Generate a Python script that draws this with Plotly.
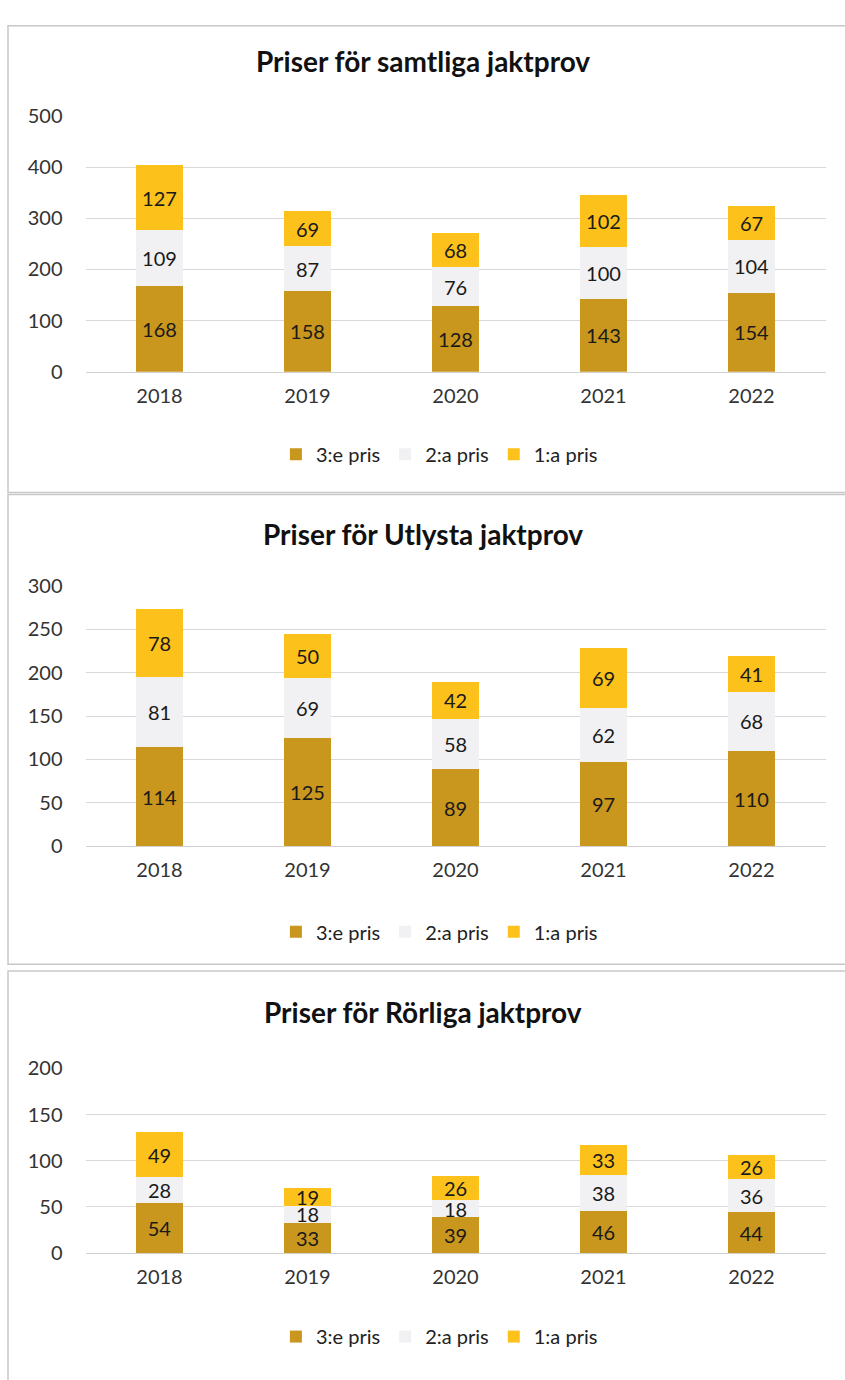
import plotly.graph_objects as go

years = ["2018", "2019", "2020", "2021", "2022"]
series_names = ["3:e pris", "2:a pris", "1:a pris"]
colors = ["#C9961E", "#F1F1F4", "#FCC11A"]

titles = ["Priser för samtliga jaktprov", "Priser för Utlysta jaktprov", "Priser för Rörliga jaktprov"]

samtliga_3 = [168, 158, 128, 143, 154]
samtliga_2 = [109, 87, 76, 100, 104]
samtliga_1 = [127, 69, 68, 102, 67]

utlysta_3 = [114, 125, 89, 97, 110]
utlysta_2 = [81, 69, 58, 62, 68]
utlysta_1 = [78, 50, 42, 69, 41]

rorliga_3 = [54, 33, 39, 46, 44]
rorliga_2 = [28, 18, 18, 38, 36]
rorliga_1 = [49, 19, 26, 33, 26]

panels = [
    [samtliga_3, samtliga_2, samtliga_1],
    [utlysta_3, utlysta_2, utlysta_1],
    [rorliga_3, rorliga_2, rorliga_1],
]
y_max = [500, 300, 200]
y_dtick = [100, 50, 50]

H = 1380.0
W = 845.0
def py(px):
    return 1 - px / H
def pxx(px):
    return px / W

# pixel geometry for each panel: (y of top tick, y of zero, title y, legend y, box top, box bottom)
geo = [
    (105, 365, 49, 449, 13, 488),
    (583, 848, 530, 935, 490, 968),
    (1074, 1262, 1017, 1347, 975, 1392),
]

FONT = "Lato, 'Open Sans', sans-serif"
fig = go.Figure()
layout = dict(
    width=845, height=1380,
    margin=dict(l=0, r=0, t=0, b=0),
    paper_bgcolor="white", plot_bgcolor="white",
    barmode="stack", bargap=0.68,
    font=dict(family=FONT, size=20, color="#222222"),
    annotations=[], shapes=[],
)

for i, (vals, g) in enumerate(zip(panels, geo)):
    ax = "" if i == 0 else str(i + 1)
    leg = "legend" if i == 0 else f"legend{i+1}"
    for name, v, c in zip(series_names, vals, colors):
        fig.add_trace(go.Bar(
            x=years, y=v, name=name, marker=dict(color=c, line=dict(width=0)),
            text=[str(t) for t in v], textposition="inside", insidetextanchor="middle",
            textangle=0, constraintext="none",
            textfont=dict(size=20, color="#1a1a1a", family=FONT),
            xaxis="x" + ax, yaxis="y" + ax, legend=leg, showlegend=True,
        ))
    top, zero, ty, ly, bt, bb = g
    layout["xaxis" + ax] = dict(
        domain=[pxx(85.5), pxx(825.5)], anchor="y" + ax, showgrid=False,
        showline=True, linecolor="#D0D0D0", linewidth=1,
        tickfont=dict(size=20, color="#333333"), ticks="", ticklen=0,
        ticklabelstandoff=6,
    )
    layout["yaxis" + ax] = dict(
        domain=[py(zero), py(top)], anchor="x" + ax, range=[0, y_max[i]],
        dtick=y_dtick[i], showgrid=True, gridcolor="#D9D9D9", gridwidth=1,
        zeroline=False, tickfont=dict(size=20, color="#333333"), ticks="",
        ticklabelstandoff=22,
    )
    layout[leg] = dict(
        orientation="h", x=0.52, xanchor="center", y=py(ly), yanchor="middle",
        font=dict(size=20, color="#222222"), traceorder="normal",
        itemwidth=30, bgcolor="rgba(0,0,0,0)",
    )
    layout["annotations"].append(dict(
        text="<b>" + titles[i] + "</b>", x=0.5, y=py(ty), xref="paper", yref="paper",
        showarrow=False, font=dict(size=28, color="#111111", family=FONT),
        xanchor="center", yanchor="middle",
    ))
    layout["shapes"].append(dict(
        type="rect", xref="paper", yref="paper",
        x0=pxx(8), x1=pxx(850), y0=py(bb), y1=py(bt),
        line=dict(color="#C8C8C8", width=1.5),
    ))

fig.update_layout(**layout)
fig.write_html("out.html", config={"displayModeBar": False},
               post_script="document.body.style.margin='0px';")
